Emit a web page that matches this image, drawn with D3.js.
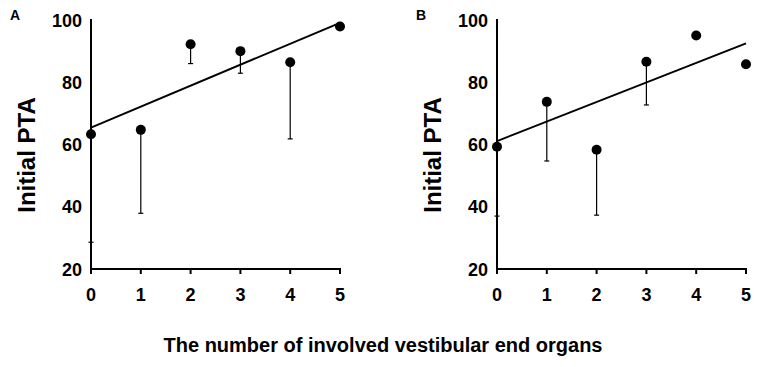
<!DOCTYPE html>
<html>
<head>
<meta charset="utf-8">
<script src="https://cdn.jsdelivr.net/npm/d3@7"></script>
<style>
  body { margin: 0; background: #fff; }
  text { font-family: "Liberation Sans", Arial, sans-serif; font-weight: bold; fill: #000; }
</style>
</head>
<body>
<script>
var w = 765;
var h = 367;

// number of involved organs (x categories)
var organs = [0, 1, 2, 3, 4, 5];
var yTicks = [20, 40, 60, 80, 100];

// panel A: mean, lower end of the error bar, fitted line (x=0, x=5)
var meanA = [63.3, 64.7, 92.2, 90, 86.4, 97.9];
var lowA = [28.6, 37.9, 86, 82.9, 61.8, null];
var fitA = [65.4, 99.1];

// panel B
var meanB = [59.3, 73.7, 58.3, 86.6, 95, 85.8];
var lowB = [37, 54.7, 37.3, 72.7, null, null];
var fitB = [61.1, 92.5];

var svg = d3.select("body")
    .append("svg")
    .attr("width", w)
    .attr("height", h);

var yScale = d3.scaleLinear()
    .domain([20, 100])
    .range([269, 20]);

function drawPanel(left, letter, mean, low, fit) {
    var xScale = d3.scaleLinear()
        .domain([0, 5])
        .range([left, left + 249]);

    var g = svg.append("g");

    // error bars (one-sided, downwards)
    var bars = organs.map(function(d, i) { return [d, mean[i], low[i]]; })
        .filter(function(d) { return d[2] != null; });

    g.selectAll(".err")
        .data(bars)
        .enter()
        .append("line")
        .attr("x1", function(d) { return xScale(d[0]); })
        .attr("x2", function(d) { return xScale(d[0]); })
        .attr("y1", function(d) { return yScale(d[1]); })
        .attr("y2", function(d) { return yScale(d[2]); })
        .attr("stroke", "#000")
        .attr("stroke-width", 1.2);

    g.selectAll(".cap")
        .data(bars)
        .enter()
        .append("line")
        .attr("x1", function(d) { return xScale(d[0]) - 2.5; })
        .attr("x2", function(d) { return xScale(d[0]) + 2.5; })
        .attr("y1", function(d) { return yScale(d[2]); })
        .attr("y2", function(d) { return yScale(d[2]); })
        .attr("stroke", "#000")
        .attr("stroke-width", 1.2);

    // axes
    g.append("line")
        .attr("x1", xScale(0)).attr("x2", xScale(0))
        .attr("y1", yScale(100) - 1).attr("y2", yScale(20) + 3)
        .attr("stroke", "#000").attr("stroke-width", 2);

    g.append("line")
        .attr("x1", xScale(0)).attr("x2", xScale(5) + 1)
        .attr("y1", yScale(20)).attr("y2", yScale(20))
        .attr("stroke", "#000").attr("stroke-width", 2);

    g.selectAll(".xtick")
        .data(organs)
        .enter()
        .append("line")
        .attr("x1", function(d) { return xScale(d); })
        .attr("x2", function(d) { return xScale(d); })
        .attr("y1", yScale(20))
        .attr("y2", yScale(20) + 5)
        .attr("stroke", "#000")
        .attr("stroke-width", 2);

    g.selectAll(".xlab")
        .data(organs)
        .enter()
        .append("text")
        .attr("x", function(d) { return xScale(d); })
        .attr("y", 301)
        .attr("text-anchor", "middle")
        .attr("font-size", 18)
        .text(function(d) { return d; });

    g.selectAll(".ylab")
        .data(yTicks)
        .enter()
        .append("text")
        .attr("x", left - 9)
        .attr("y", function(d) { return yScale(d) + 6.5; })
        .attr("text-anchor", "end")
        .attr("font-size", 18)
        .text(function(d) { return d; });

    // fitted line
    g.append("line")
        .attr("x1", xScale(0)).attr("x2", xScale(5))
        .attr("y1", yScale(fit[0])).attr("y2", yScale(fit[1]))
        .attr("stroke", "#000").attr("stroke-width", 2);

    // points
    g.selectAll("circle")
        .data(organs)
        .enter()
        .append("circle")
        .attr("cx", function(d) { return xScale(d); })
        .attr("cy", function(d, i) { return yScale(mean[i]); })
        .attr("r", 5)
        .attr("fill", "#000");

    // y title
    g.append("text")
        .attr("transform", "translate(" + (left - 56) + ",155) rotate(-90)")
        .attr("text-anchor", "middle")
        .attr("font-size", 24)
        .text("Initial PTA");

    // panel letter
    g.append("text")
        .attr("x", left - 81)
        .attr("y", 20)
        .attr("font-size", 14)
        .text(letter);
}

drawPanel(91, "A", meanA, lowA, fitA);
drawPanel(497, "B", meanB, lowB, fitB);

svg.append("text")
    .attr("x", 383)
    .attr("y", 352)
    .attr("text-anchor", "middle")
    .attr("font-size", 20)
    .text("The number of involved vestibular end organs");
</script>
</body>
</html>
